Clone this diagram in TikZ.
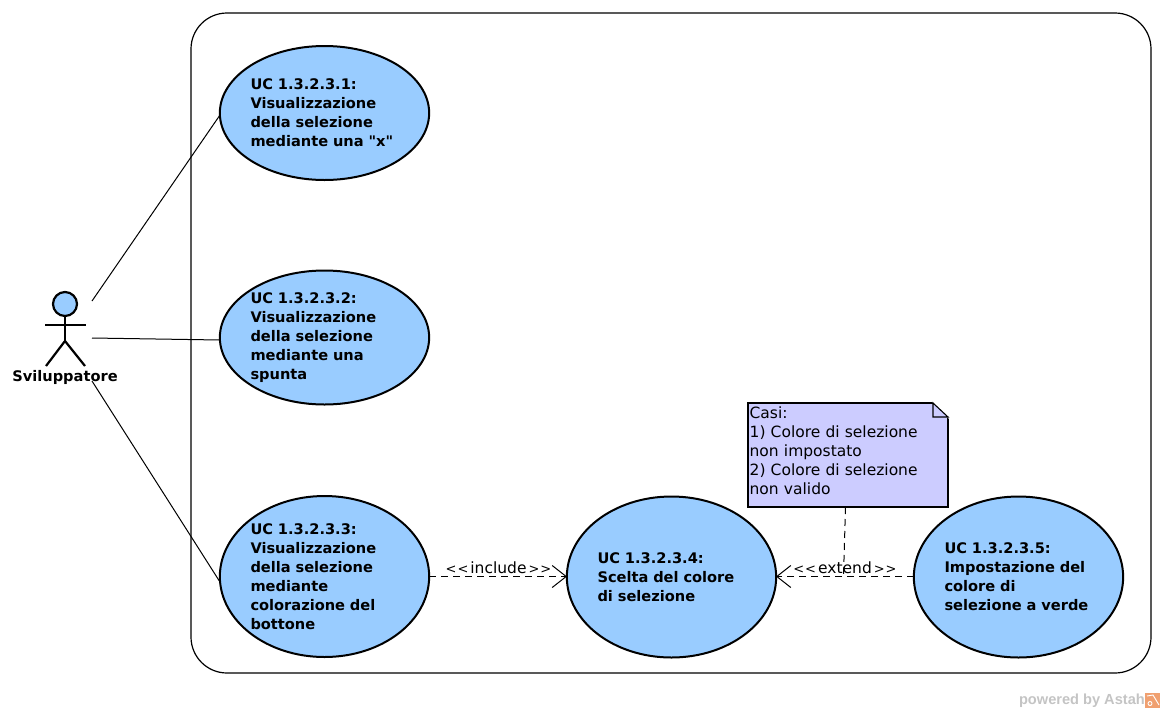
\documentclass[tikz,border=0pt]{standalone}
\usepackage{fontspec}
\setmainfont{DejaVu Sans}
\newfontfamily\quotefont{DejaVu Sans}
\usetikzlibrary{arrows.meta,shapes.geometric}
\definecolor{ucBlue}{HTML}{99CCFF}
\definecolor{noteLilac}{HTML}{CCCCFF}
\definecolor{astahGray}{HTML}{C4C4C4}
\definecolor{astahOrange}{HTML}{F0A070}
\newcommand{\stereotype}[1]{{\fontsize{13}{19}\selectfont{<}\kern1pt{<}}\kern2pt #1\kern2pt{\fontsize{13}{19}\selectfont{>}\kern1pt{>}}}
\tikzset{
  usecase/.style={ellipse,draw=black,fill=ucBlue,line width=2pt,minimum width=209pt,inner sep=0pt,
    text width=148pt,align=left,font=\fontsize{14.6}{19}\selectfont\bfseries},
  assoc/.style={line width=1pt},
  noteline/.style={dash pattern=on 7pt off 5pt,line width=1pt},
  stereo/.style={font=\fontsize{15.5}{19}\selectfont,inner sep=0pt},
  open/.style={-{Straight Barb[length=14pt,width=22pt,line width=1pt]}},
  limb/.style={line width=2.2pt}
}
\begin{document}
\begin{tikzpicture}[x=1pt,y=-1pt]
  \useasboundingbox (0,0) rectangle (1165,713);
  \node[draw,line width=1.2pt,rounded corners=36pt,minimum width=960pt,minimum height=660pt,inner sep=0pt] (system) at (671,343) {};
  \node[usecase,minimum height=134pt] (uc1) at (324.5,113) {UC 1.3.2.3.1:\\Visualizzazione\\della selezione\\mediante una {\quotefont\bfseries"}x{\quotefont\bfseries"}};
  \node[usecase,minimum height=134pt] (uc2) at (324.5,337.5) {UC 1.3.2.3.2:\\Visualizzazione\\della selezione\\mediante una\\spunta};
  \node[usecase,minimum height=161pt] (uc3) at (324.5,576.5) {UC 1.3.2.3.3:\\Visualizzazione\\della selezione\\mediante\\colorazione del\\bottone};
  \node[usecase,minimum height=161pt] (uc4) at (671.5,577) {UC 1.3.2.3.4:\\Scelta del colore\\di selezione};
  \node[usecase,minimum height=161pt] (uc5) at (1018.5,577) {UC 1.3.2.3.5:\\Impostazione del\\colore di\\selezione a verde};
  % actor
  \node[circle,draw,fill=ucBlue,limb,minimum size=24pt,inner sep=0pt] (head) at (65,304) {};
  \coordinate (hip) at (65,341);
  \coordinate (armL) at (45,325);
  \coordinate (armR) at (86,325);
  \coordinate (footL) at (46,366);
  \coordinate (footR) at (85,366);
  \draw[limb] (head) -- (hip);
  \draw[limb] (armL) -- (armR);
  \draw[limb] (footL) -- (hip) -- (footR);
  \node[font=\fontsize{14.6}{19}\selectfont\bfseries,inner sep=0pt] (actor) at (65,377) {Sviluppatore};
  \coordinate (a1) at (92,301);
  \coordinate (a2) at (92,338);
  \coordinate (a3) at (92,381);
  \coordinate (e1) at (220,115);
  \coordinate (e2) at (220,340);
  \coordinate (e3) at (220,582);
  \draw[assoc] (a1) -- (e1);
  \draw[assoc] (a2) -- (e2);
  \draw[assoc] (a3) -- (e3);
  % note
  \node[draw,fill=noteLilac,line width=1.1pt,minimum width=200pt,minimum height=104pt,inner sep=0pt] (note) at (848,455) {};
  \node[anchor=north west,inner xsep=2pt,inner ysep=4pt,text width=196pt,align=left,font=\fontsize{15.5}{19}\selectfont] (noteText) at (note.north west) {Casi:\\1) Colore di selezione\\non impostato\\2) Colore di selezione\\non valido};
  \fill[white] (932,402) -- (949,402) -- (949,419) -- cycle;
  \draw[line width=1.1pt,fill=noteLilac] (933,403) -- (948,417) -- (933,417) -- cycle;
  % dependencies
  \coordinate (incS) at (429,576.5);
  \coordinate (incE) at (567,576.5);
  \coordinate (extS) at (914,576.5);
  \coordinate (extE) at (776,576.5);
  \coordinate (noteEnd) at (843.5,576.5);
  \coordinate (noteStart) at (845.5,507);
  \draw[noteline,open] (incS) -- (incE);
  \draw[noteline,open] (extS) -- (extE);
  \draw[noteline] (noteStart) -- (noteEnd);
  \node[stereo] (include) at (498.5,568) {\stereotype{include}};
  \node[stereo] (extend) at (845,568) {\stereotype{extend}};
  % watermark
  \node[font=\fontsize{14.6}{16}\selectfont\bfseries\fontspec{Liberation Sans},text=astahGray,inner sep=0pt,anchor=east] (powered) at (1145,700.5) {powered by Astah};
  \node[fill=astahOrange,minimum size=15pt,inner sep=0pt] (logo) at (1152.5,700) {};
  \draw[white,line width=0.9pt] (1147,696) -- (1153,695) -- (1159,705);
  \draw[white,line width=0.9pt] (1150,703.5) circle (2pt);
\end{tikzpicture}
\end{document}
